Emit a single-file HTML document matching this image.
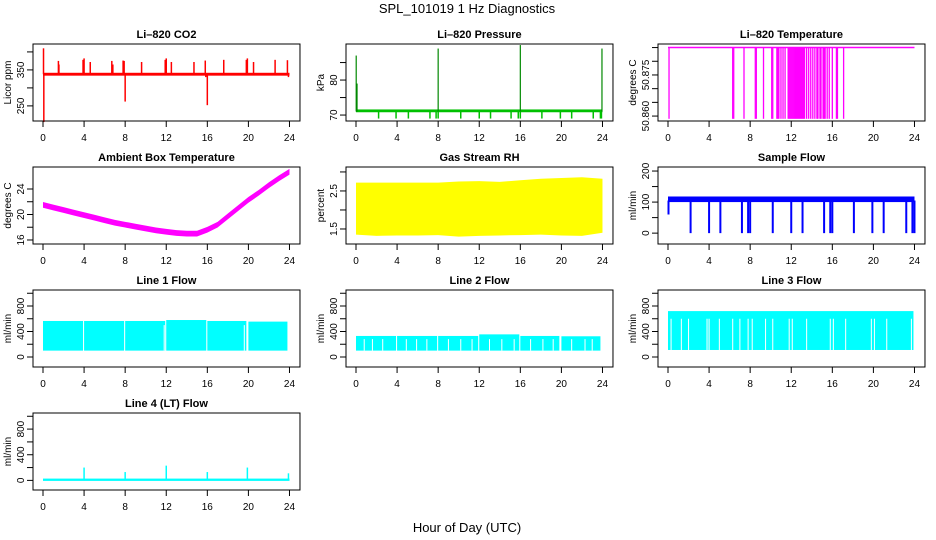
<!DOCTYPE html>
<html><head><meta charset="utf-8"><style>
html,body{margin:0;padding:0;background:#fff;}
svg{display:block;font-family:"Liberation Sans",Arial,sans-serif;}
</style></head><body>
<svg id="chart" width="936" height="540" viewBox="0 0 936 540">
<text x="467" y="13" text-anchor="middle" font-size="13">SPL_101019  1 Hz Diagnostics</text>
<text x="467" y="532" text-anchor="middle" font-size="13">Hour of Day (UTC)</text>
</svg>
<script>
// ---------- data ----------
const xTicks = [0,4,8,12,16,20,24];
// CO2
const co2BaseLo = 334, co2BaseHi = 342;
const co2SpikeHours = [0.05,0.08,1.5,1.55,3.9,4.0,4.6,6.7,6.8,7.8,7.9,8.0,9.6,11.9,12.0,12.5,14.7,15.8,15.85,16.0,17.6,19.8,19.9,20.5,22.6,23.8,23.9];
const co2SpikeValues = [410,205,375,365,378,382,372,375,365,376,375,262,372,378,382,372,372,376,330,252,378,378,382,372,378,377,330];
// Pressure
const presBaseLo = 70.8, presBaseHi = 71.6;
const presDipHours = [2.2,3.9,5.1,7.2,7.8,8.0,10.2,12.0,13.1,15.1,15.8,16.0,18.1,19.9,21.0,23.1,23.8,23.9];
const presDipValues = [69,69,69,69,69,69,69,69,69,69,69,69,69,69,69,69,69,69];
const presSpikeHours = [0.02,0.1,8.0,16.0,23.95];
const presSpikeValues = [87,79,89,90,89];
// Li-820 temperature
const ltTop = 50.885, ltBottom = 50.859;
const ltDropHours = [0.1,6.3,6.4,7.4,8.5,8.6,9.3,10.1,10.2,10.6,10.7,10.8,11.0,11.2,11.4,11.7,11.8,11.9,12.0,12.1,12.2,12.3,12.4,12.5,12.6,12.7,12.8,12.9,13.0,13.1,13.2,13.3,13.5,13.7,13.9,14.1,14.3,14.5,14.6,14.8,14.9,15.1,15.2,15.3,15.5,15.7,16.0,16.4,16.5,17.1];
// Ambient box temperature
const ambHours = [0,1,2,3,4,5,6,7,8,9,10,11,12,13,14,15,16,17,18,19,20,21,22,23,24];
const ambValues = [21.5,21.1,20.7,20.3,19.9,19.5,19.1,18.7,18.4,18.1,17.8,17.5,17.3,17.1,17.0,17.0,17.6,18.4,19.7,21.0,22.3,23.4,24.6,25.7,26.7];
// Gas stream RH
const rhHours = [0,2,4,6,8,10,12,14,16,18,20,22,24];
const rhHigh = [2.72,2.72,2.72,2.72,2.72,2.75,2.76,2.74,2.78,2.82,2.84,2.86,2.82];
const rhLow = [1.35,1.32,1.33,1.33,1.34,1.3,1.32,1.33,1.34,1.35,1.33,1.32,1.4];
// Sample flow
const sfBaseLo = 100, sfBaseHi = 118;
const sfDipHours = [0.05,2.2,4.0,5.1,7.2,7.8,8.0,10.2,12.0,13.1,15.2,15.8,16.0,18.1,19.9,21.0,23.2,23.8,24.0];
const sfDipValues = [60,0,0,0,0,0,0,0,0,0,0,0,0,0,0,0,0,0,0];
// Line flows
const l1SegStart = [0,4,8,12,16,20];
const l1SegEnd = [3.9,7.9,11.9,15.9,19.8,23.8];
const l1High = [565,565,565,580,565,555];
const l1Low = 100;
const l1GapHours = [11.8,19.6];
const l2SegStart = [0,4,8,12,16,20];
const l2SegEnd = [3.9,7.9,11.9,15.9,19.8,23.8];
const l2High = [330,330,330,355,330,325];
const l2Low = 100;
const l2GapHours = [0.8,1.6,2.6,4.9,5.9,6.9,9.0,10.2,11.3,13.0,14.2,15.4,17.0,18.2,19.2,21.0,22.3,23.0];
const l3SegStart = [0];
const l3SegEnd = [23.9];
const l3High = [720];
const l3Low = 110;
const l3GapHours = [0.3,1.3,2.0,3.8,4.0,5.0,6.3,7.0,7.8,8.2,9.5,10.2,11.8,12.1,13.5,15.8,16.1,17.3,19.8,20.1,21.3,23.7];
const l4Base = 10;
const l4SpikeHours = [4.0,8.0,12.0,16.0,19.9,23.9];
const l4SpikeValues = [200,130,230,130,200,110];

// ---------- layout ----------
const svg = document.getElementById('chart');
const NS = 'http://www.w3.org/2000/svg';
const colX0 = [43,356,668];
const rowTop = [44,167,290,413];
const PXH = 10.27, BH = 77;
function mk(tag, attrs, name, parent){
  const el = document.createElementNS(NS, tag);
  for (const k in attrs) el.setAttribute(k, attrs[k]);
  
  
  (parent||svg).appendChild(el);
  return el;
}
function panel(col,row,title,ylab,dom,yt,ylabels,name){
  const x0 = colX0[col], top = rowTop[row], bot = top+BH;
  const left = x0-10, right = x0+24*PXH+10.5;
  const g = mk('g',{},name+'-panel');
  const X = h => x0 + h*PXH;
  const Y = v => bot - (v-dom[0])/(dom[1]-dom[0])*BH;
  const marks = mk('g',{},name+'-series',g);
  mk('rect',{x:left,y:top,width:right-left,height:BH,fill:'none',stroke:'#000','stroke-width':1},name+'-plot-frame',g);
  const t = mk('text',{x:(left+right)/2,y:top-6,'text-anchor':'middle','font-size':11,'font-weight':'bold'},name+'-title',g);
  t.textContent = title;
  xTicks.forEach(h=>{
    mk('line',{x1:X(h),x2:X(h),y1:bot,y2:bot+6,stroke:'#000'},'x-tick',g);
    const tl = mk('text',{x:X(h),y:bot+20,'text-anchor':'middle','font-size':10},'x-tick-label',g);
    tl.textContent = h;
  });
  yt.forEach(v=>{
    mk('line',{x1:left-6,x2:left,y1:Y(v),y2:Y(v),stroke:'#000'},'y-tick',g);
  });
  ylabels.forEach(v=>{
    const tl = mk('text',{x:left-9,y:Y(v),'text-anchor':'middle','font-size':10,transform:`rotate(-90 ${left-9} ${Y(v)})`},'y-tick-label',g);
    tl.textContent = v;
  });
  const at = mk('text',{x:left-22,y:(top+bot)/2,'text-anchor':'middle','font-size':10,transform:`rotate(-90 ${left-22} ${(top+bot)/2})`},'y-axis-title',g);
  at.textContent = ylab;
  return {X,Y,g:marks};
}
function vline(p,h,v1,v2,color,w,name){
  mk('line',{x1:p.X(h),x2:p.X(h),y1:p.Y(v1),y2:p.Y(v2),stroke:color,'stroke-width':w||1.3},name,p.g);
}
function band(p,h1,h2,lo,hi,color,name){
  mk('rect',{x:p.X(h1),y:p.Y(hi),width:p.X(h2)-p.X(h1),height:p.Y(lo)-p.Y(hi),fill:color},name,p.g);
}

// CO2
let p = panel(0,0,'Li\u2013820 CO2','Licor ppm',[208,422],[250,300,350,400],['250','350'],'co2');
band(p,0,24,co2BaseLo,co2BaseHi,'#ff0000','co2-baseline');
co2SpikeHours.forEach((h,i)=>vline(p,h,338,co2SpikeValues[i],'#ff0000',1.5,'co2-spike'));
// Pressure
p = panel(1,0,'Li\u2013820 Pressure','kPa',[68.3,90.3],[70,75,80,85],['70','80'],'pressure');
band(p,0,24,presBaseLo,presBaseHi,'#00c000','pressure-baseline');
presDipHours.forEach((h,i)=>vline(p,h,71,presDipValues[i],'#00c000',1.5,'pressure-dip'));
presSpikeHours.forEach((h,i)=>vline(p,h,71,presSpikeValues[i],'#008800',1.2,'pressure-spike'));
// Li-820 temperature
p = panel(2,0,'Li\u2013820 Temperature','degrees C',[50.8582,50.8863],[50.860,50.865,50.870,50.875,50.880,50.885],['50.860','50.875'],'li820-temp');
mk('line',{x1:p.X(0),x2:p.X(24),y1:p.Y(ltTop),y2:p.Y(ltTop),stroke:'#ff00ff','stroke-width':1.5},'li820-temp-top-line',p.g);
ltDropHours.forEach(h=>vline(p,h,ltTop,ltBottom,'#ff00ff',1.3,'li820-temp-drop'));
// Ambient
p = panel(0,1,'Ambient Box Temperature','degrees C',[15.37,27.45],[16,18,20,22,24],['16','20','24'],'ambient-temp');
{
  const up = ambHours.map((h,i)=>`${p.X(h)},${p.Y(ambValues[i]+0.45)}`);
  const dn = ambHours.map((h,i)=>`${p.X(h)},${p.Y(ambValues[i]-0.45)}`).reverse();
  mk('polygon',{points:up.concat(dn).join(' '),fill:'#ff00ff'},'ambient-temp-band',p.g);
}
// RH
p = panel(1,1,'Gas Stream RH','percent',[1.105,3.13],[1.5,2.0,2.5,3.0],['1.5','2.5'],'gas-rh');
{
  const up = rhHours.map((h,i)=>`${p.X(h)},${p.Y(rhHigh[i])}`);
  const dn = rhHours.map((h,i)=>`${p.X(h)},${p.Y(rhLow[i])}`).reverse();
  mk('polygon',{points:up.concat(dn).join(' '),fill:'#ffff00'},'gas-rh-band',p.g);
}
// Sample flow
p = panel(2,1,'Sample Flow','ml/min',[-35,213],[0,50,100,150,200],['0','100','200'],'sample-flow');
band(p,0,24,sfBaseLo,sfBaseHi,'#0000ff','sample-flow-band');
sfDipHours.forEach((h,i)=>vline(p,h,105,sfDipValues[i],'#0000ff',2,'sample-flow-dip'));
// Line flows
function lineFlow(col,row,title,name,ss,se,hi,lo){
  const q = panel(col,row,title,'ml/min',[-157,1051],[0,200,400,600,800,1000],['0','400','800'],name);
  ss.forEach((s,i)=>band(q,s,se[i],lo,hi[i],'#00ffff',name+'-band'));
  return q;
}
p = lineFlow(0,2,'Line 1 Flow','line1-flow',l1SegStart,l1SegEnd,l1High,l1Low);
l1GapHours.forEach(h=>vline(p,h,l1Low,500,'#ffffff',1,'line1-flow-gap'));
p = lineFlow(1,2,'Line 2 Flow','line2-flow',l2SegStart,l2SegEnd,l2High,l2Low);
l2GapHours.forEach(h=>vline(p,h,l2Low,280,'#ffffff',1,'line2-flow-gap'));
p = lineFlow(2,2,'Line 3 Flow','line3-flow',l3SegStart,l3SegEnd,l3High,l3Low);
l3GapHours.forEach(h=>vline(p,h,l3Low,600,'#ffffff',1,'line3-flow-gap'));
p = panel(0,3,'Line 4 (LT) Flow','ml/min',[-150,1051],[0,200,400,600,800,1000],['0','400','800'],'line4-flow');
band(p,0,24,l4Base-18,l4Base+18,'#00ffff','line4-flow-baseline');
l4SpikeHours.forEach((h,i)=>vline(p,h,l4Base,l4SpikeValues[i],'#00ffff',1.5,'line4-flow-spike'));
</script>
</body></html>
